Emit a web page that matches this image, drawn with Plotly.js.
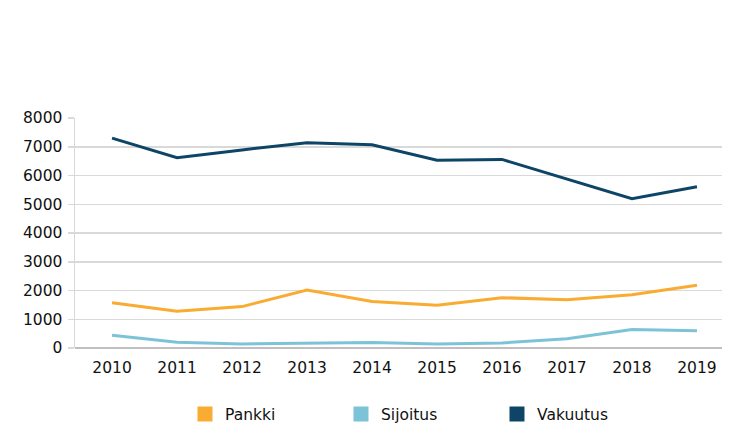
<!DOCTYPE html>
<html>
<head>
<meta charset="utf-8">
<script src="https://cdn.plot.ly/plotly-3.0.1.min.js"></script>
<style>html,body{margin:0;padding:0;background:#fff;}#chart{width:742px;height:445px;}</style>
</head>
<body>
<div id="chart"></div>
<script>
const years = [2010, 2011, 2012, 2013, 2014, 2015, 2016, 2017, 2018, 2019];
const pankki = [1570, 1280, 1440, 2020, 1620, 1490, 1750, 1680, 1850, 2180];
const sijoitus = [440, 200, 140, 160, 190, 140, 175, 325, 640, 600];
const vakuutus = [7300, 6620, 6890, 7140, 7070, 6530, 6560, 5880, 5190, 5610];
const yTicks = [0, 1000, 2000, 3000, 4000, 5000, 6000, 7000, 8000];
const seriesNames = ['Pankki', 'Sijoitus', 'Vakuutus'];
const colors = ['#F9AB32', '#7DC3D8', '#0E4566'];
const seriesData = [pankki, sijoitus, vakuutus];

const traces = [];
seriesData.forEach((d, i) => {
  traces.push({x: years, y: d, type: 'scatter', mode: 'lines', name: seriesNames[i],
    line: {color: colors[i], width: 3}, showlegend: false, hoverinfo: 'x+y'});
});
seriesNames.forEach((n, i) => {
  traces.push({x: [null], y: [null], type: 'scatter', mode: 'markers', name: n,
    marker: {symbol: 'square', size: 15, color: colors[i]}, showlegend: true});
});

const layout = {
  width: 742, height: 445,
  margin: {l: 75, r: 20, t: 118, b: 97},
  paper_bgcolor: '#fff', plot_bgcolor: '#fff',
  font: {family: '"DejaVu Sans", sans-serif', size: 15.5, color: '#111'},
  xaxis: {
    type: 'linear', range: [2009.43, 2019.385], tickvals: years, ticktext: years.map(String),
    showgrid: false, zeroline: false, showline: false, ticks: '', ticklabelstandoff: 8,
    fixedrange: true
  },
  yaxis: {
    range: [0, 8000], tickvals: yTicks, ticktext: yTicks.map(String),
    showgrid: true, gridcolor: '#d9d9d9', gridwidth: 1.5,
    zeroline: true, zerolinecolor: '#bfbfbf', zerolinewidth: 1.5,
    showline: true, linecolor: '#d9d9d9', linewidth: 1.5,
    ticks: 'outside', ticklen: 6, tickcolor: '#d9d9d9', tickwidth: 1.5,
    ticklabelstandoff: 2,
    fixedrange: true
  },
  showlegend: true,
  legend: {
    orientation: 'h', x: 0.17, xanchor: 'left', y: -0.215, yanchor: 'top',
    entrywidth: 111, entrywidthmode: 'pixels', font: {size: 15.5, color: '#111'},
    itemclick: false
  }
};
Plotly.newPlot('chart', traces, layout, {displayModeBar: false, staticPlot: true});
</script>
</body>
</html>
